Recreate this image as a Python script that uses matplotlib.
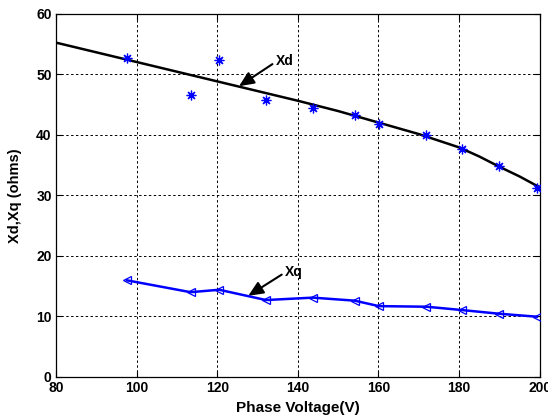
import matplotlib
matplotlib.use('Agg')
import matplotlib.pyplot as plt

# measured points
VOLT = [97.6, 113.4, 120.5, 132.1, 143.7, 154.1, 160.1, 171.9, 180.7, 189.8, 199.3]
XD = [52.6, 46.5, 52.3, 45.8, 44.4, 43.3, 41.7, 39.9, 37.7, 34.8, 31.2]
XQ = [15.96, 14.0, 14.4, 12.7, 13.1, 12.6, 11.7, 11.6, 11.05, 10.45, 9.95]

# fitted Xd curve
FIT_V = [80, 90, 100, 110, 120, 130, 140, 150, 160, 170, 180, 185, 190, 195, 200]
FIT_XD = [55.2, 53.6, 52.0, 50.4, 48.8, 47.2, 45.6, 43.9, 42.0, 40.1, 37.9, 36.4, 34.7, 33.1, 31.3]

XTICKS = [80, 100, 120, 140, 160, 180, 200]
YTICKS = [0, 10, 20, 30, 40, 50, 60]

plt.rcParams['font.family'] = ['Liberation Sans', 'DejaVu Sans']
plt.rcParams['font.weight'] = 'bold'

fig = plt.figure(figsize=(5.48, 4.2), dpi=100)
ax = fig.add_axes([0.102, 0.1024, 0.883, 0.8654])

ax.plot(FIT_V, FIT_XD, color='black', lw=1.8, zorder=3)
ax.plot(VOLT, XD, ls='none', marker=(8, 2, 0), ms=7, mew=0.9, color='blue', zorder=4)
ax.plot(VOLT, XQ, color='blue', lw=1.8, marker='<', ms=5.5, mfc='none', mew=0.9, zorder=4)

arrowprops = dict(arrowstyle='-|>,head_length=0.9,head_width=0.4', color='black', lw=1.5,
                  shrinkA=0, shrinkB=0)
ax.annotate('', xy=(125.4, 48.0), xytext=(133.7, 51.65), arrowprops=arrowprops)
ax.text(134.6, 52.2, 'Xd', fontsize=10, fontweight='bold', va='center', ha='left')
ax.annotate('', xy=(127.7, 13.4), xytext=(136.0, 16.9), arrowprops=arrowprops)
ax.text(136.7, 17.3, 'Xq', fontsize=10, fontweight='bold', va='center', ha='left')

ax.set_xlim(80, 200)
ax.set_ylim(0, 60)
ax.set_xticks(XTICKS)
ax.set_yticks(YTICKS)
ax.tick_params(direction='in', top=True, right=True, labelsize=10, length=4, width=0.8, pad=3)
ax.grid(True, color='black', ls=(0, (2.5, 2.5)), lw=0.7)
for sp in ax.spines.values():
    sp.set_linewidth(0.9)

ax.set_xlabel('Phase Voltage(V)', fontsize=11, fontweight='bold', labelpad=4)
ax.set_ylabel('Xd,Xq (ohms)', fontsize=10.5, fontweight='bold', labelpad=10)

fig.savefig('out.png', dpi=100)
